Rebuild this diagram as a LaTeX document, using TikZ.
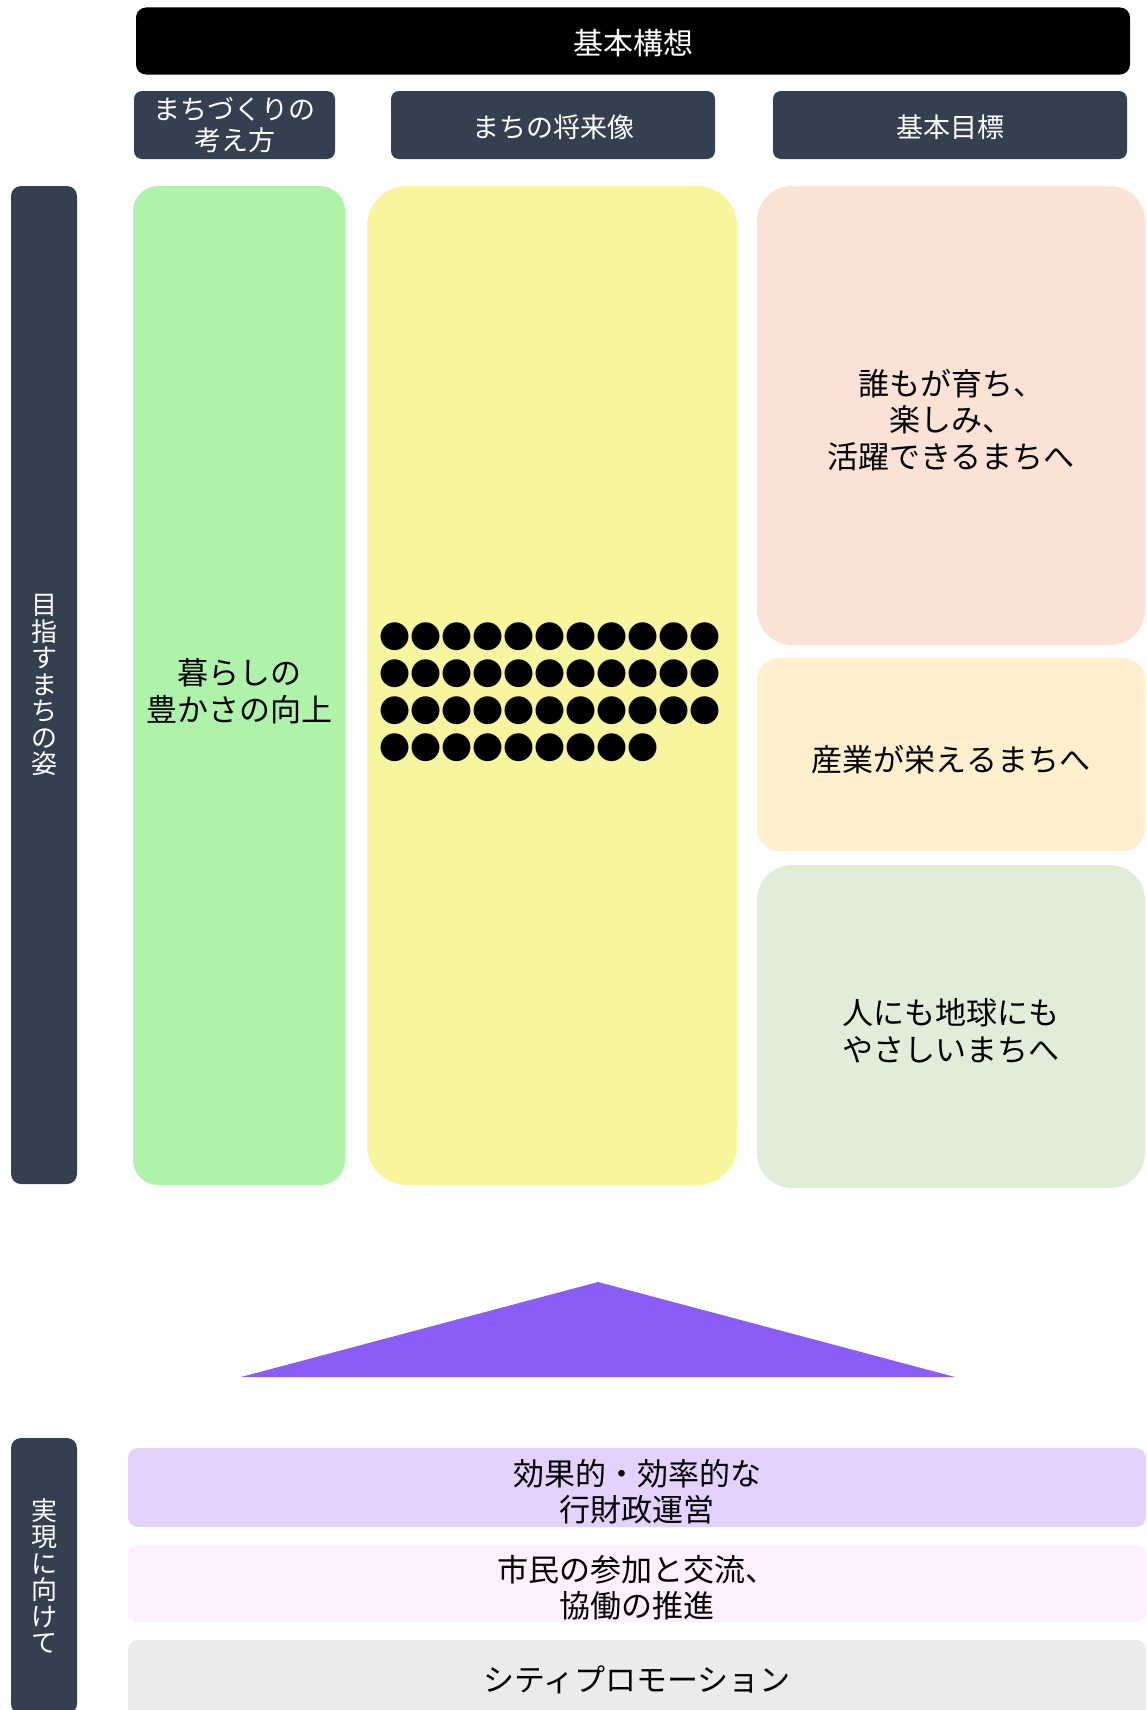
\documentclass[tikz,border=0pt]{standalone}
\usepackage{fontspec}
\setmainfont{Noto Sans CJK JP}
\usetikzlibrary{positioning}
\definecolor{kkslate}{RGB}{52, 63, 79}
\definecolor{kkgreen}{RGB}{174, 243, 169}
\definecolor{kkyellow}{RGB}{247, 245, 157}
\definecolor{kkpeach}{RGB}{250, 227, 214}
\definecolor{kkcream}{RGB}{254, 240, 204}
\definecolor{kksage}{RGB}{226, 237, 217}
\definecolor{kkviolet}{RGB}{139, 92, 246}
\definecolor{kklavender}{RGB}{228, 210, 253}
\definecolor{kkblush}{RGB}{253, 240, 253}
\definecolor{kkgray}{RGB}{235, 235, 235}

\begin{document}
\begin{tikzpicture}[x=1pt, y=1pt,
		% Node styles
		sink/.style={execute at begin node={\rule{0pt}{#1}}},
		banner/.style={fill=black, text=white, rounded corners=10pt,
				minimum width=994pt, minimum height=67pt, font=\fontsize{30}{36}\selectfont,
				inner sep=0pt, outer sep=0pt, sink=0.97em},
		heading/.style={fill=kkslate, text=white, rounded corners=8pt,
				minimum height=68pt, font=\fontsize{27}{31}\selectfont, align=center,
				inner sep=0pt, outer sep=0pt, sink=0.97em},
		sidebar/.style={fill=kkslate, text=white, rounded corners=10pt,
				minimum width=66pt, font=\fontsize{26}{26.5}\selectfont, align=center,
				inner sep=0pt, outer sep=0pt},
		column/.style={fill=#1, rounded corners=25pt, minimum height=999pt,
				font=\fontsize{31}{36.5}\selectfont, align=center, inner sep=0pt, outer sep=0pt},
		goal/.style={fill=#1, rounded corners=35pt, minimum width=388pt,
				font=\fontsize{31}{36.5}\selectfont, align=center, inner sep=0pt, outer sep=0pt},
		pillar/.style={fill=#1, rounded corners=10pt, minimum width=1018pt,
				font=\fontsize{31}{36}\selectfont, align=center, inner sep=0pt, outer sep=0pt},
		dots/.style={font=\fontsize{31}{37}\selectfont, align=left, inner sep=0pt},
	]

	% Page frame
	\useasboundingbox (0,0) rectangle (1147,-1710);
	\clip (0,0) rectangle (1147,-1710);

	% Title bar
	\node[banner] (concept) at (633,-41) {基本構想};

	% Column headings
	\node[heading, minimum width=201pt] (thinking) at (234.5,-125) {まちづくりの\\考え方};
	\node[heading, minimum width=324pt] (future) at (553,-125) {まちの将来像};
	\node[heading, minimum width=354pt] (goals) at (950,-125) {基本目標};

	% Side label for the upper part
	\node[sidebar, minimum height=998pt] (vision) at (44,-685) {目\\指\\す\\ま\\ち\\の\\姿};

	% Main columns
	\node[column=kkgreen, minimum width=212pt, sink=74pt] (living) at (239,-685.5) {暮らしの\\豊かさの向上};
	\node[column=kkyellow, minimum width=370pt, rounded corners=40pt] (image) at (552,-685.5) {};
	\node[dots] (placeholder) at ([xshift=-2pt, yshift=-7pt]image.center)
		{●●●●●●●●●●●\\●●●●●●●●●●●\\●●●●●●●●●●●\\●●●●●●●●●};

	% Basic goals stacked on the right
	\node[goal=kkpeach, minimum height=459pt, sink=108pt] (grow) at (951,-415.5) {誰もが育ち、\\楽しみ、\\活躍できるまちへ};
	\node[goal=kkcream, minimum height=193pt, rounded corners=22pt, sink=1.15em] (industry) [below=13pt of grow] {産業が栄えるまちへ};
	\node[goal=kksage, minimum height=323pt, sink=71pt] (earth) [below=14pt of industry] {人にも地球にも\\やさしいまちへ};

	% Roof shape
	\coordinate (apex) at (598,-1282);
	\coordinate (eaveleft) at (241,-1377);
	\coordinate (eaveright) at (955,-1377);
	\fill[kkviolet] (eaveleft) -- (apex) -- (eaveright) -- cycle;

	% Side label for the lower part
	\node[sidebar, minimum height=276pt] (realize) at (44,-1576) {実\\現\\に\\向\\け\\て};

	% Foundations
	\node[pillar=kklavender, minimum height=79pt, sink=70pt] (admin) at (637,-1487.5) {効果的・効率的な\\行財政運営};
	\node[pillar=kkblush, minimum height=77pt, sink=70pt] (citizens) [below=18pt of admin] {市民の参加と交流、\\協働の推進};
	\node[pillar=kkgray, minimum height=80pt] (promotion) [below=18pt of citizens] {シティプロモーション};

\end{tikzpicture}
\end{document}
